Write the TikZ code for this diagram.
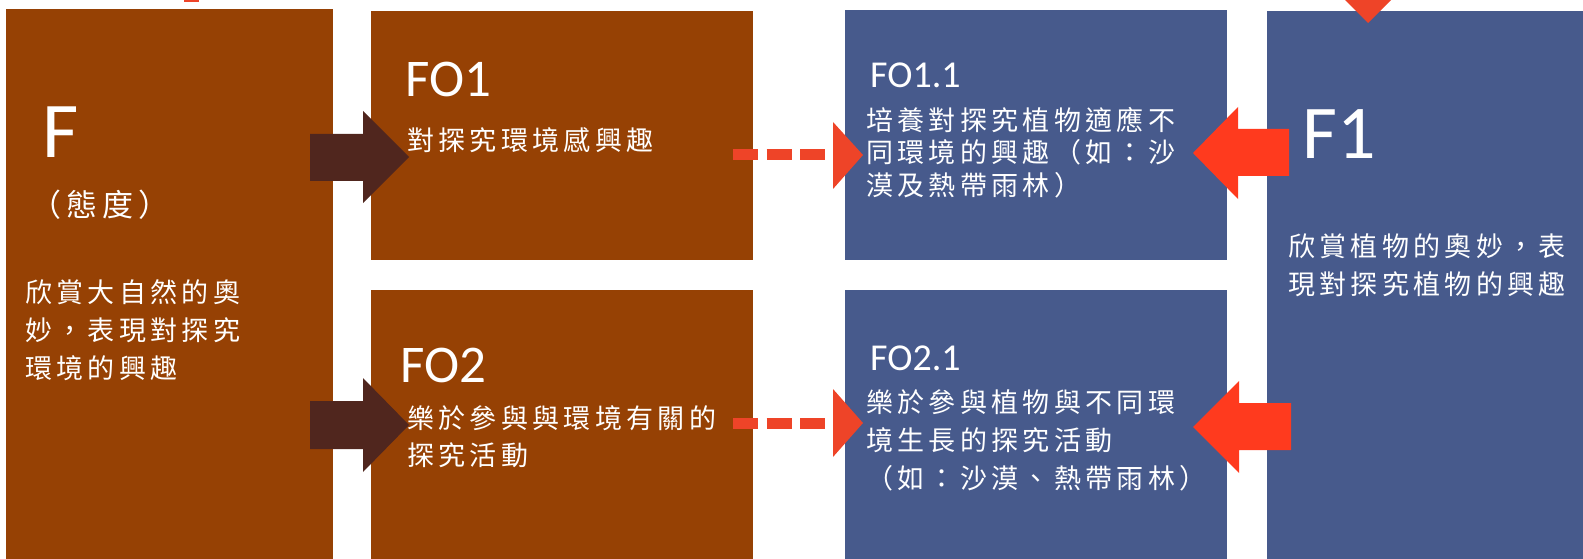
\documentclass[tikz,border=0pt]{standalone}
\usepackage{fontspec}
\setmainfont{Carlito}
\newfontfamily\cjk[LetterSpace=16]{Noto Sans CJK TC}
\newlength{\du}
\setlength{\du}{1pt}

\tikzset{
  panel/.style={rectangle, inner sep=0pt, outer sep=0pt, anchor=north west},
  tag/.style={anchor=base west, inner sep=0pt, text=white},
  note/.style={anchor=base west, inner sep=0pt, text=white, align=left, font=\cjk\fontsize{27}{38}\selectfont},
  dashline/.style={line width=11\du, dash pattern=on 25\du off 8.5\du, draw=dashred}
}

\begin{document}
\begin{tikzpicture}
\pgftransformxscale{1.000000}
\pgftransformyscale{-1.000000}
\definecolor{panelbrown}{RGB}{150,65,4}
\definecolor{panelblue}{RGB}{71,90,140}
\definecolor{arrowdark}{RGB}{80,38,30}
\definecolor{arrowred}{RGB}{255,58,30}
\definecolor{dashred}{RGB}{238,68,40}
\useasboundingbox (0\du,0\du) rectangle (1583\du,559\du);
\clip (0\du,0\du) rectangle (1583\du,559\du);
% panels
\node[panel, fill=panelbrown, minimum width=327\du, minimum height=560\du] (F) at (6\du,9\du) {};
\node[panel, fill=panelbrown, minimum width=382\du, minimum height=249\du] (FO1) at (371\du,11\du) {};
\node[panel, fill=panelbrown, minimum width=382\du, minimum height=270\du] (FO2) at (371\du,290\du) {};
\node[panel, fill=panelblue, minimum width=382\du, minimum height=250\du] (FO11) at (845\du,10\du) {};
\node[panel, fill=panelblue, minimum width=382\du, minimum height=270\du] (FO21) at (845\du,290\du) {};
\node[panel, fill=panelblue, minimum width=320\du, minimum height=549\du] (F1) at (1267\du,11\du) {};
% cut-off pieces at the top
\fill[dashred] (184\du,-5\du) rectangle (199\du,2\du);
\fill[dashred] (1322\du,-23\du) -- (1414\du,-23\du) -- (1368\du,23\du) -- cycle;
% F (base anchor sits on the last line)
\node[tag, font=\fontsize{79}{79}\selectfont] (Ftag) at (42\du,158\du) {F};
\node[note, font=\cjk\fontsize{31}{38}\selectfont] (Fkind) at (30\du,216\du) {（態度）};
\node[note] (Ftext) at (25\du,378\du) {欣賞大自然的奧\\妙，表現對探究\\環境的興趣};
% FO1, FO2
\node[tag, font=\fontsize{53}{53}\selectfont] (FO1tag) at (405\du,97\du) {FO1};
\node[note] (FO1text) at (407\du,150\du) {對探究環境感興趣};
\node[tag, font=\fontsize{53}{53}\selectfont] (FO2tag) at (400\du,382\du) {FO2};
\node[note, font=\cjk\fontsize{27}{37}\selectfont] (FO2text) at (407\du,465\du) {樂於參與與環境有關的\\探究活動};
% FO1.1, FO2.1
\node[tag, font=\fontsize{38}{38}\selectfont] (FO11tag) at (870\du,88\du) {FO1.1};
\node[note, font=\cjk\fontsize{27}{33}\selectfont] (FO11text) at (866\du,196\du) {培養對探究植物適應不\\同環境的興趣（如：沙\\漠及熱帶雨林）};
\node[tag, font=\fontsize{38}{38}\selectfont] (FO21tag) at (870\du,370\du) {FO2.1};
\node[note] (FO21text) at (866\du,488\du) {樂於參與植物與不同環\\境生長的探究活動\\（如：沙漠、熱帶雨林）};
% F1
\node[tag, font=\fontsize{76}{76}\selectfont] (F1tag) at (1302\du,159\du) {F1};
\node[note] (F1text) at (1288\du,294\du) {欣賞植物的奧妙，表\\現對探究植物的興趣};
% block arrows F -> FO
\fill[arrowdark] (310\du,134\du) -- (363\du,134\du) -- (363\du,111\du) -- (409\du,157\du) -- (363\du,203\du) -- (363\du,181\du) -- (310\du,181\du) -- cycle;
\fill[arrowdark] (310\du,401\du) -- (363\du,401\du) -- (363\du,378\du) -- (409\du,425\du) -- (363\du,472\du) -- (363\du,449\du) -- (310\du,449\du) -- cycle;
% block arrows F1 -> FO.1
\fill[arrowred] (1289\du,129\du) -- (1238\du,129\du) -- (1238\du,107\du) -- (1193\du,153\du) -- (1238\du,199\du) -- (1238\du,176\du) -- (1289\du,176\du) -- cycle;
\fill[arrowred] (1291\du,403\du) -- (1239\du,403\du) -- (1239\du,381\du) -- (1193\du,427\du) -- (1239\du,473\du) -- (1239\du,450\du) -- (1291\du,450\du) -- cycle;
% dashed arrows FO -> FO.1
\coordinate (d1s) at (733\du,155\du);
\coordinate (d1b) at (833\du,155\du);
\coordinate (d1e) at (863\du,155\du);
\coordinate (d2s) at (733\du,423\du);
\coordinate (d2b) at (833\du,423\du);
\coordinate (d2e) at (863\du,423\du);
\draw[dashline] (d1s) -- (d1b);
\fill[dashred] (833\du,122\du) -- (d1e) -- (833\du,189\du) -- cycle;
\draw[dashline] (d2s) -- (d2b);
\fill[dashred] (833\du,389\du) -- (d2e) -- (833\du,457\du) -- cycle;
\end{tikzpicture}
\end{document}
